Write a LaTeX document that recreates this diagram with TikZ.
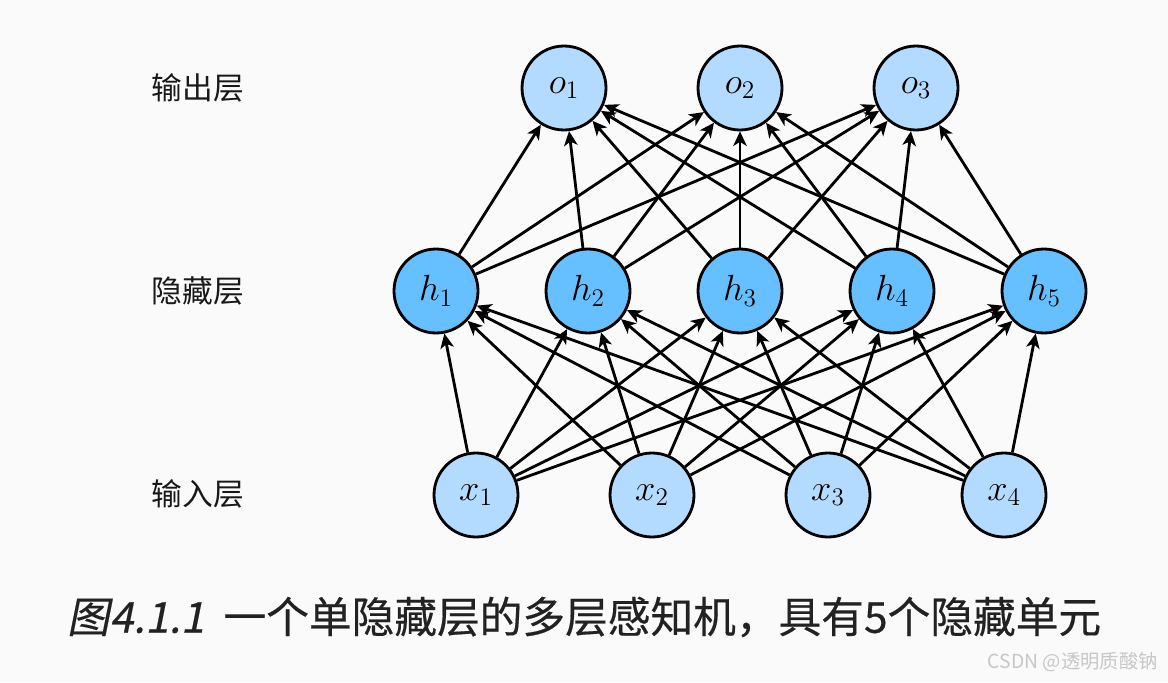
\documentclass[tikz,border=0pt]{standalone}
\usepackage{fontspec}
\usetikzlibrary{arrows.meta}
\newfontfamily\cjk{Noto Sans CJK SC}
\newfontfamily\cjkbold[FakeBold=0.4]{Noto Sans CJK SC}
\newfontfamily\cjkslant[FakeSlant=0.2,FakeBold=0.4]{Noto Sans CJK SC}
\definecolor{inunit}{RGB}{179,218,255}
\definecolor{hidunit}{RGB}{102,191,255}
\definecolor{bgcol}{RGB}{250,250,250}
\definecolor{captext}{RGB}{34,34,34}
\begin{document}
\begin{tikzpicture}[x=0.02cm,y=-0.02cm,
    unit/.style={circle,draw=black,line width=1.6pt,minimum size=1.68cm,inner sep=0pt,font=\fontsize{20}{24}\selectfont},
    layer/.style={font=\cjk\fontsize{17.5}{20}\selectfont,text=black!90},
    conn/.style={-{Stealth[length=0.29cm,width=0.27cm,inset=0.08cm]},line width=1.6pt}]
  \fill[bgcol] (0,0) rectangle (1168,682);
  \useasboundingbox (0,0) rectangle (1168,682);
  % units
  \foreach \i/\x in {1/564,2/740,3/916}
    \node[unit,fill=inunit] (o\i) at (\x,88) {$o_\i$};
  \foreach \i/\x in {1/436,2/588,3/740,4/892,5/1044}
    \node[unit,fill=hidunit] (h\i) at (\x,291) {$h_\i$};
  \foreach \i/\x in {1/476,2/652,3/828,4/1004}
    \node[unit,fill=inunit] (x\i) at (\x,495) {$x_\i$};
  % layer names
  \node[layer] (outname) at (198,88) {输出层};
  \node[layer] (hidname) at (198,291) {隐藏层};
  \node[layer] (inname) at (198,494) {输入层};
  % connections
  \foreach \i in {1,...,4}
    \foreach \j in {1,...,5}
      \draw[conn] (x\i) -- (h\j);
  \foreach \j in {1,...,5}
    \foreach \k in {1,2,3}
      \draw[conn] (h\j) -- (o\k);
  % caption
  \node[font=\cjkbold\fontsize{24.3}{28}\selectfont,text=captext] (caption) at (584,617)
    {{\cjkslant 图4.1.1}\hspace{0.45em}一个单隐藏层的多层感知机，具有5个隐藏单元};
  \node[anchor=east,font=\cjk\fontsize{11}{13}\selectfont,text=black!22] (mark) at (1164,662)
    {CSDN @透明质酸钠};
\end{tikzpicture}
\end{document}
